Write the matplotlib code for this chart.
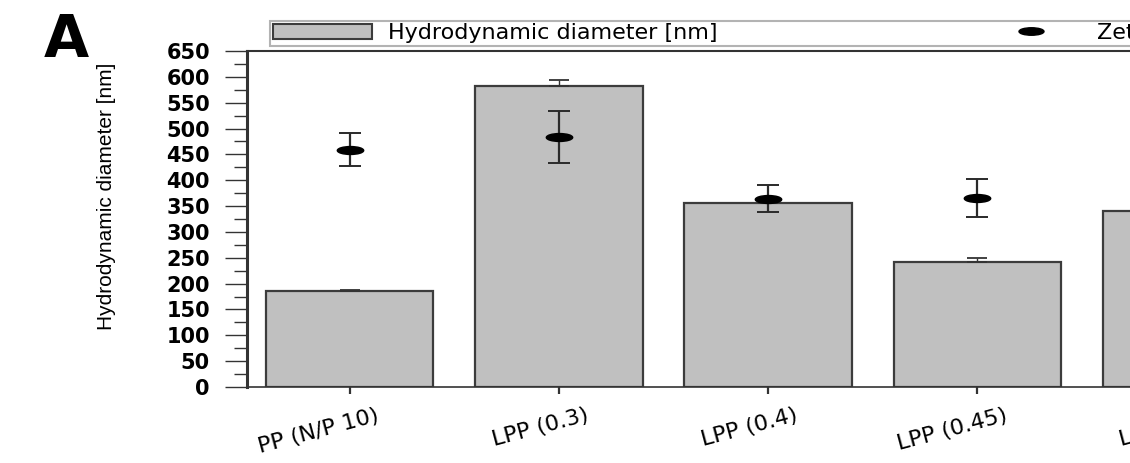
import numpy as np
import matplotlib
matplotlib.use('Agg')
import matplotlib.pyplot as plt
from matplotlib.path import Path
from matplotlib.transforms import Affine2D, ScaledTranslation
from matplotlib.ticker import MultipleLocator
from matplotlib.lines import Line2D
from matplotlib.patches import Patch

# ---------------- data ----------------
categories = ['PP (N/P 10)', 'LPP (0.3)', 'LPP (0.4)', 'LPP (0.45)', 'LPP (0.5)']
diameter_nm = [185, 582, 356, 242, 341]
diameter_err = [2, 12, 5, 7, np.nan]
zeta_mv = [45.9, 48.3, 36.4, 36.5, np.nan]
zeta_err = [3.2, 5.0, 2.6, 3.7, np.nan]
y_ticks = list(range(0, 651, 50))

# ---------------- helpers ----------------
W, H = 1130, 463
def px(v):
    return v * 0.72  # pixels -> points at dpi 100

ell = Path.unit_circle().transformed(Affine2D().scale(1.0, 0.3))

fig = plt.figure(figsize=(W / 100, H / 100), dpi=100)
ax = fig.add_axes([247 / W, 1 - 387 / H, 1046.5 / W, 336 / H])

x = np.arange(len(categories))
ax.bar(x, diameter_nm, width=0.8, color='#c0c0c0', edgecolor='#3c3c3c',
       linewidth=1.6, zorder=2)
ax.errorbar(x, diameter_nm, yerr=[np.zeros(len(x)), diameter_err], fmt='none',
            ecolor='#333333', elinewidth=1.0, capsize=px(10), capthick=1.3,
            zorder=3)

ax.set_xlim(-0.49, len(categories) - 0.49)
ax.set_ylim(0, 650)
ax.set_yticks(y_ticks)
ax.yaxis.set_minor_locator(MultipleLocator(25))
ax.set_yticklabels([str(t) for t in y_ticks], fontfamily='DejaVu Sans',
                   fontweight='bold', fontsize=15)
ax.tick_params(axis='y', which='major', direction='out', length=px(22),
               width=1, color='#333333', pad=px(15))
ax.tick_params(axis='y', which='minor', direction='out', length=px(13),
               width=1, color='#333333')
ax.set_xticks(x)
ax.set_xticklabels([])
ax.tick_params(axis='x', direction='out', length=px(7), width=1.6,
               color='#333333')

ax.spines['left'].set_linewidth(2.2)
ax.spines['left'].set_color('#333333')
ax.spines['top'].set_linewidth(1.5)
ax.spines['top'].set_color('#333333')
ax.spines['bottom'].set_linewidth(1.2)
ax.spines['bottom'].set_color('#333333')
ax.spines['right'].set_visible(False)

# rotated category labels
trans = ax.get_xaxis_transform() + ScaledTranslation(0.29, -0.28, fig.dpi_scale_trans)
for i, cat in enumerate(categories):
    ax.text(x[i], 0, cat, transform=trans, rotation=15, ha='right', va='center',
            rotation_mode='anchor', fontsize=16, fontfamily='DejaVu Sans',
            clip_on=False)

ax.set_ylabel('Hydrodynamic diameter [nm]', fontfamily='Liberation Sans',
              fontsize=15)
ax.yaxis.set_label_coords(-(247 - 116) / 1046.5, (387 - 196) / 336)

# secondary axis: zeta potential
ax2 = ax.twinx()
ax2.set_ylim(0, 65)
ax2.set_yticks([])
for s in ax2.spines.values():
    s.set_visible(False)
ax2.errorbar(x, zeta_mv, yerr=zeta_err, fmt='none', ecolor='#2a2a2a',
             elinewidth=1.6, capsize=px(11.5), capthick=1.4, zorder=3)
ax2.plot(x, zeta_mv, linestyle='none', marker=ell, ms=19, color='black',
         zorder=4)

# legend
handles = [Patch(facecolor='#c0c0c0', edgecolor='#3c3c3c', linewidth=1.5),
           Line2D([], [], linestyle='none', marker=ell, ms=18, color='black')]
leg = fig.legend(handles, ['Hydrodynamic diameter [nm]', 'Zeta potential [mV]'],
                 loc='lower left', bbox_to_anchor=(270 / W, 1 - 46 / H), ncol=2,
                 fontsize=16, frameon=True, fancybox=False, edgecolor='#a0a0a0',
                 borderpad=0.12, handlelength=4.46, handleheight=0.72,
                 handletextpad=0.72, columnspacing=11.9, borderaxespad=0)
leg.get_frame().set_linewidth(1.5)

# panel letter
fig.text(66 / W, 1 - 57 / H, 'A', fontsize=42, fontweight='bold',
         ha='center', va='baseline')

fig.savefig('out.png', dpi=100)
